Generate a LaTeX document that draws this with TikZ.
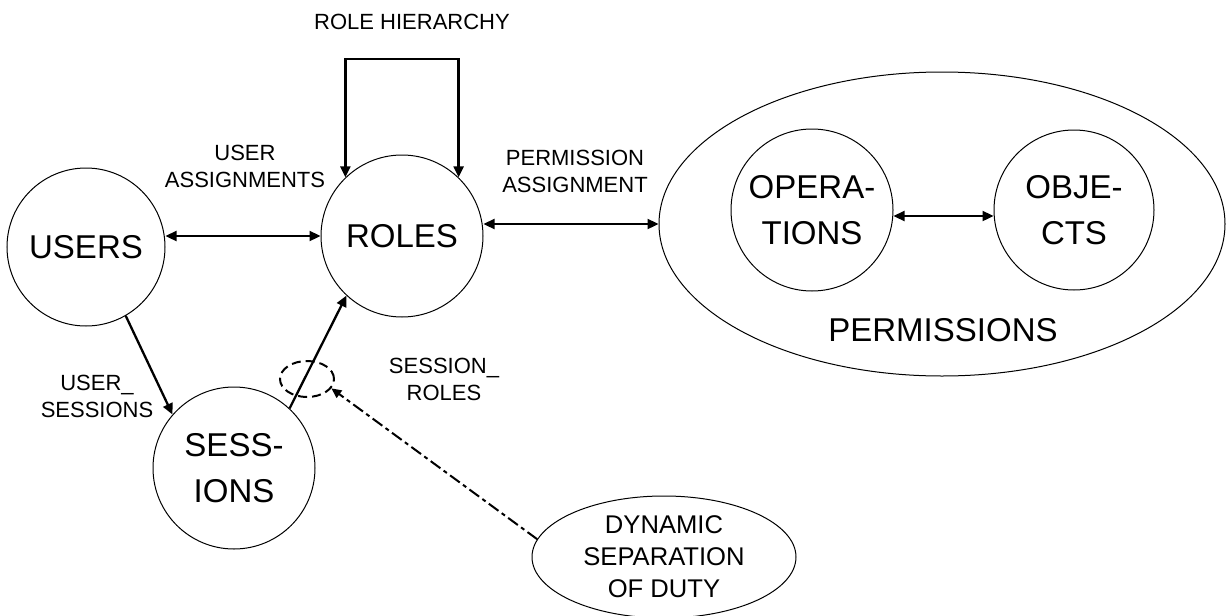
\documentclass[tikz,border=0pt]{standalone}
\usepackage{fontspec}
\setmainfont{Liberation Sans}
\usetikzlibrary{arrows.meta,shapes.geometric}
% font sizes used in the drawing
\newcommand\rbBig{\fontsize{33}{46}\selectfont}
\newcommand\rbMid{\fontsize{25.6}{32}\selectfont}
\newcommand\rbSmall{\fontsize{22}{27}\selectfont}
\begin{document}
\begin{tikzpicture}[x=1pt,y=-1pt,
  entity/.style={circle,draw,line width=1pt,minimum size=#1,inner sep=0pt,
                 align=center,font=\rbBig},
  outline/.style={ellipse,draw,line width=1pt,inner sep=0pt},
  lbl/.style={align=center,font=\rbSmall,inner sep=0pt},
  link/.style={line width=2.3pt,-{Triangle[length=11pt,width=10pt]}},
  biglink/.style={line width=2.3pt,{Triangle[length=11pt,width=10pt]}-{Triangle[length=11pt,width=10pt]}},
  sodlink/.style={line width=2pt,dash pattern=on 12pt off 4pt on 4pt off 4pt,
                  -{Triangle[length=10pt,width=9pt]}},
]
\useasboundingbox (0,0) rectangle (1227,616);

% main entities
\node[entity=158pt] (users) at (86,247) {USERS};
\node[entity=162pt] (roles) at (402,236) {ROLES};
\node[entity=162pt] (sessions) at (234,468) {SESS-\\IONS};

% permissions: operations and objects inside a large ellipse
\node[outline,minimum width=566pt,minimum height=304pt] (perm) at (942,224) {};
\node[font=\rbBig,inner sep=0pt] (permtext) at (943,330) {PERMISSIONS};
\node[entity=162pt] (ops) at (812,210) {OPERA-\\TIONS};
\node[entity=160pt] (obj) at (1074,210) {OBJE-\\CTS};

% dynamic separation of duty constraint
\node[outline,minimum width=264pt,minimum height=122pt] (dsd) at (664,557) {};
\node[align=center,font=\rbMid,inner sep=0pt] (dsdtext) at (dsd.center)
  {DYNAMIC\\SEPARATION\\OF DUTY};
\node[ellipse,draw,line width=2pt,dash pattern=on 9pt off 5pt,
      minimum width=54pt,minimum height=36pt,inner sep=0pt] (sdod) at (307,379) {};

% relation labels
\node[lbl] (rhl) at (412,22) {ROLE HIERARCHY};
\node[lbl] (ual) at (245,166) {USER\\ASSIGNMENTS};
\node[lbl] (pal) at (575,171) {PERMISSION\\ASSIGNMENT};
\node[lbl] (usl) at (97,396) {USER\_\\SESSIONS};
\node[lbl] (srl) at (444,379) {SESSION\_\\ROLES};

% relations
\coordinate (rhtop) at (402,59);
\draw[biglink] (roles.134) |- (rhtop) -| (roles.46);
\draw[biglink] (users.east |- roles.west) -- (roles.west);
\draw[biglink] (roles.east |- perm.west) -- (perm.west);
\draw[biglink] ([yshift=-6pt]ops.east) -- ([yshift=-6pt]obj.west);
\draw[link] (users.-60) -- (sessions.139);
\draw[link] (sessions.47) -- (roles.227);
\draw[sodlink] (dsd.172) -- (sdod.-21);
\end{tikzpicture}
\end{document}
